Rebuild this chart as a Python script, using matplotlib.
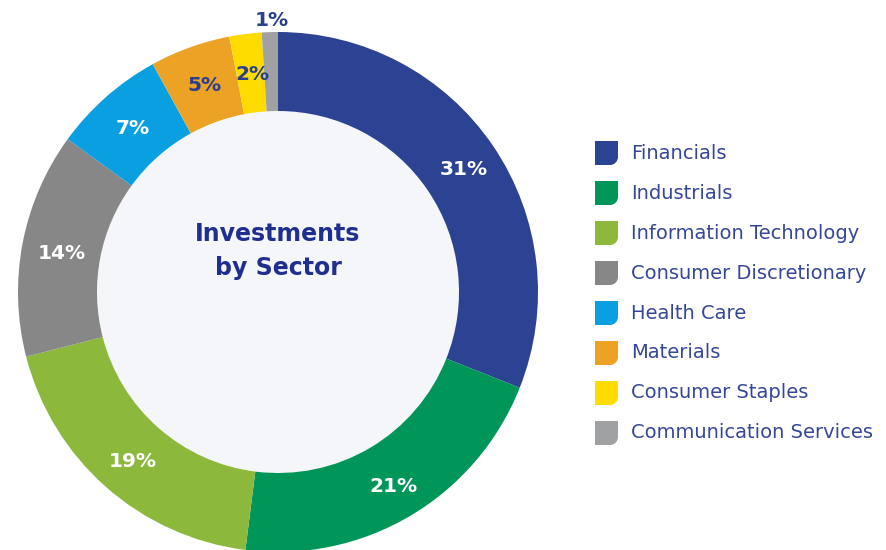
import matplotlib
matplotlib.use("Agg")
import matplotlib.pyplot as plt
import numpy as np
from matplotlib.patches import Circle, PathPatch
from matplotlib.path import Path

plt.rcParams["font.family"] = ["DejaVu Sans"]

sectors = ["Financials", "Industrials", "Information Technology",
           "Consumer Discretionary", "Health Care", "Materials",
           "Consumer Staples", "Communication Services"]
shares = [31, 21, 19, 14, 7, 5, 2, 1]
colors = ["#2b4392", "#00965a", "#8cb83c", "#878787",
          "#0a9fe0", "#eca224", "#ffdc00", "#a0a1a3"]
label_colors = ["white", "white", "white", "white", "white",
                "#2b3f8f", "#2b3f8f", "#2b3f8f"]

W, H = 887, 550
CX, CY = 278, H - 292
R_OUT, R_IN = 260, 181
NAVY = "#1f2f8f"
LEG_TXT = "#34479a"

fig = plt.figure(figsize=(W / 100, H / 100), dpi=100)
ax = fig.add_axes([0, 0, 1, 1])

wedges, _ = ax.pie(shares, colors=colors, startangle=90, counterclock=False,
                   center=(CX, CY), radius=R_OUT,
                   wedgeprops=dict(width=R_OUT - R_IN, linewidth=0))
ax.add_patch(Circle((CX, CY), R_IN, fc="#f5f6f9", ec="none", zorder=0.5))

#percent labels at mid ring, the tiny slice goes outside
for w, v, lc in zip(wedges, shares, label_colors):
    ang = np.deg2rad((w.theta1 + w.theta2) / 2)
    r = 275 if v < 2 else (R_OUT + R_IN) / 2 + 2
    ax.text(CX + r * np.cos(ang) + 2, CY + r * np.sin(ang) - 3, f"{v}%",
            ha="center", va="center", color=lc, fontsize=14.5,
            fontweight="bold")

ax.text(CX, H - 234, "Investments", ha="center", va="center",
        color=NAVY, fontsize=17, fontweight="bold")
ax.text(CX, H - 268, "by Sector", ha="center", va="center",
        color=NAVY, fontsize=17, fontweight="bold")


def marker(x0, y0, w, h, rad):
    #square with the bottom-right corner rounded
    k = 0.5523 * rad
    verts = [(x0, y0), (x0 + w - rad, y0),
             (x0 + w - rad + k, y0), (x0 + w, y0 + rad - k), (x0 + w, y0 + rad),
             (x0 + w, y0 + h), (x0, y0 + h), (x0, y0)]
    codes = [Path.MOVETO, Path.LINETO,
             Path.CURVE4, Path.CURVE4, Path.CURVE4,
             Path.LINETO, Path.LINETO, Path.CLOSEPOLY]
    return Path(verts, codes)


for i, (name, c) in enumerate(zip(sectors, colors)):
    yc = H - (153 + 40 * i)
    ax.add_patch(PathPatch(marker(595, yc - 12, 23, 24, 8), fc=c, ec="none"))
    ax.text(631, yc, name, ha="left", va="center", color=LEG_TXT, fontsize=14)

ax.set_xlim(0, W)
ax.set_ylim(0, H)
ax.set_aspect("equal")
ax.axis("off")
fig.savefig("out.png", dpi=100)
